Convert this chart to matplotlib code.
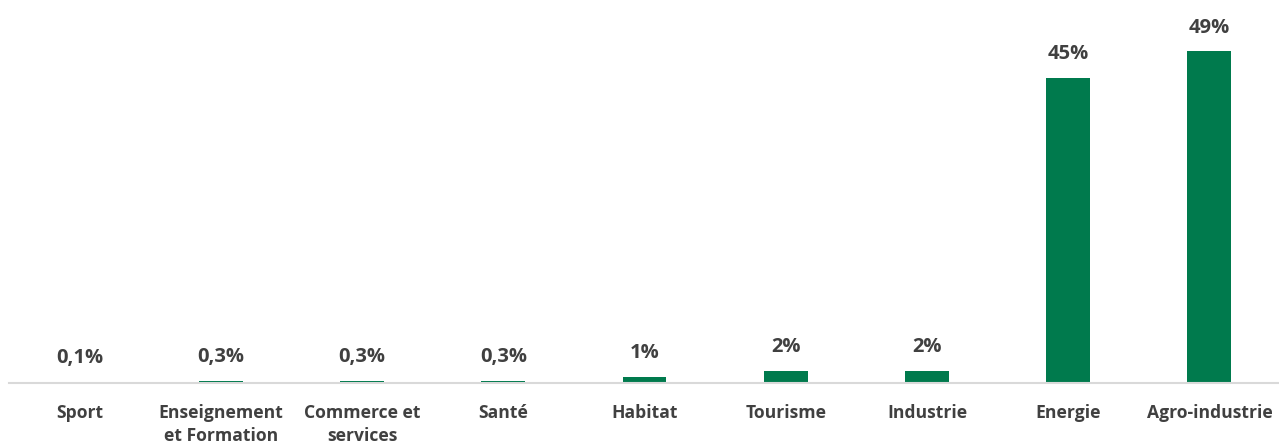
import matplotlib.pyplot as plt
import numpy as np

# sectors and shares (%)
categories = ['Sport', 'Enseignement\net Formation', 'Commerce et\nservices', 'Santé',
              'Habitat', 'Tourisme', 'Industrie', 'Energie', 'Agro-industrie']
values = [0.1, 0.3, 0.3, 0.3, 0.9, 1.8, 1.8, 45.2, 49.2]
labels = ['0,1%', '0,3%', '0,3%', '0,3%', '1%', '2%', '2%', '45%', '49%']

green = '#007A4D'
text_col = '#404040'

plt.rcParams['font.family'] = ['Open Sans', 'DejaVu Sans']

fig = plt.figure(figsize=(12.79, 4.44), dpi=100)
ax = fig.add_axes([9 / 1279, 61 / 444, 1271 / 1279, 373 / 444])

x = np.arange(len(categories))
bars = ax.bar(x, values, width=0.31, color=green)

for b, lab in zip(bars, labels):
    ax.annotate(lab, xy=(b.get_x() + b.get_width() / 2, b.get_height()),
                xytext=(0, 10), textcoords='offset points', ha='center', va='bottom',
                fontsize=14.5, fontweight='bold', color=text_col)

ax.set_xlim(-0.5, len(categories) - 0.5)
ax.set_ylim(0, 373 / 6.74)
ax.set_xticks(x)
ax.set_xticklabels(categories, fontsize=12.6, fontweight='bold', color=text_col,
                   linespacing=1.35, va='top')
ax.tick_params(axis='x', length=0, pad=15)
ax.set_yticks([])
for s in ['top', 'right', 'left']:
    ax.spines[s].set_visible(False)
ax.spines['bottom'].set_color('#D9D9D9')
ax.spines['bottom'].set_linewidth(1.5)

fig.savefig('out.png', dpi=100)
